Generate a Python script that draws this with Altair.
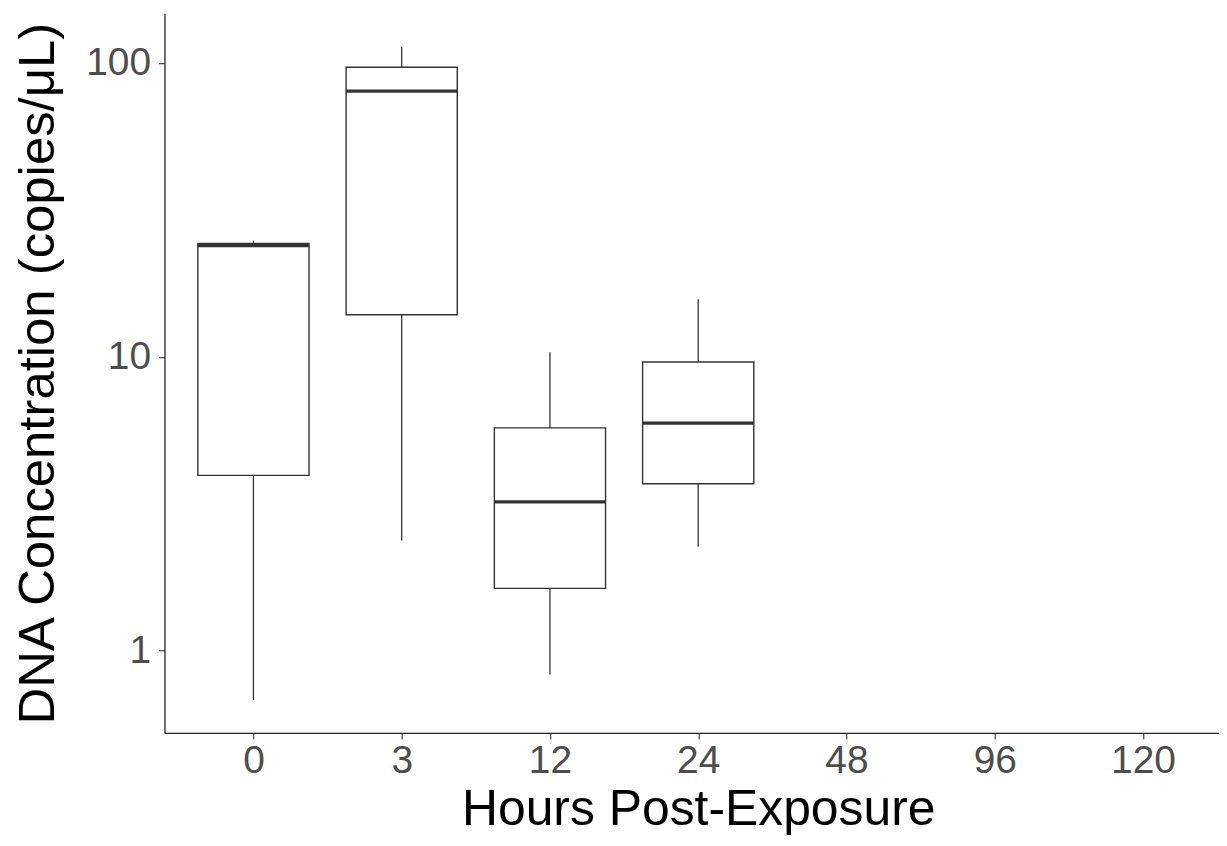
import altair as alt
import pandas as pd

# Categories on the x axis
hours = ["0", "3", "12", "24", "48", "96", "120"]

# Box statistics (only the first four time points have data)
box_hours = ["0", "3", "12", "24"]
lower = [0.68, 2.37, 0.83, 2.26]
q1 = [3.95, 13.9, 1.63, 3.70]
median = [23.9, 80.2, 3.21, 5.95]
q3 = [24.3, 96.7, 5.73, 9.6]
upper = [24.9, 113.5, 10.36, 15.7]

y_ticks = [1, 10, 100]

df = pd.DataFrame({
    "hours": box_hours,
    "lower": lower,
    "q1": q1,
    "median": median,
    "q3": q3,
    "upper": upper,
})

FONT = "Liberation Sans"
PLOT_W = 1058          # visible plot width (svg ends here)
RANGE_W = 1071         # full x range; the right end runs past the edge as in the reference
BOX_W = 0.75 * RANGE_W / 7.2

x_enc = alt.X(
    "hours:N",
    scale=alt.Scale(type="point", domain=hours, padding=0.6, range=[0, RANGE_W]),
    sort=hours,
    axis=alt.Axis(
        title="Hours Post-Exposure",
        labelAngle=0,
        labelFontSize=39,
        labelColor="#4D4D4D",
        labelFont=FONT,
        labelPadding=3,
        titleFontSize=50,
        titleFont=FONT,
        titleFontWeight="normal",
        titleColor="#000000",
        titlePadding=4,
        tickSize=6,
        tickColor="#333333",
        tickWidth=1.1,
        domainColor="#222222",
        domainWidth=1.3,
        grid=False,
    ),
)

y_scale = alt.Scale(type="log", domain=[0.525, 147.5], nice=False)
y_axis = alt.Axis(
    title="DNA Concentration (copies/\u03bcL)",
    values=y_ticks,
    format="~g",
    labelFontSize=39,
    labelColor="#4D4D4D",
    labelFont=FONT,
    labelPadding=8,
    titleFontSize=51,
    titleFont=FONT,
    titleFontWeight="normal",
    titleColor="#000000",
    titlePadding=21,
    tickSize=6,
    tickColor="#333333",
    tickWidth=1.1,
    domainColor="#222222",
    domainWidth=1.3,
    grid=False,
)

base = alt.Chart(df)

whiskers = base.mark_rule(color="#333333", strokeWidth=1.3).encode(
    x=x_enc,
    y=alt.Y("lower:Q", scale=y_scale, axis=y_axis),
    y2="upper:Q",
)

boxes = base.mark_bar(
    size=BOX_W, fill="white", stroke="#333333", strokeWidth=1.4
).encode(
    x=x_enc,
    y=alt.Y("q1:Q", scale=y_scale, axis=y_axis),
    y2="q3:Q",
)

medians = base.mark_tick(
    size=BOX_W, thickness=3.2, color="#333333", opacity=1
).encode(
    x=x_enc,
    y=alt.Y("median:Q", scale=y_scale, axis=y_axis),
)

chart = (
    alt.layer(whiskers, boxes, medians)
    .properties(
        width=PLOT_W,
        height=722,
        autosize=alt.AutoSizeParams(type="none"),
        padding={"left": 157, "top": 4, "right": 0, "bottom": 104},
        background="white",
    )
    .configure_view(stroke=None)
)

chart.save("out.html", embed_options={"renderer": "svg", "actions": False})
